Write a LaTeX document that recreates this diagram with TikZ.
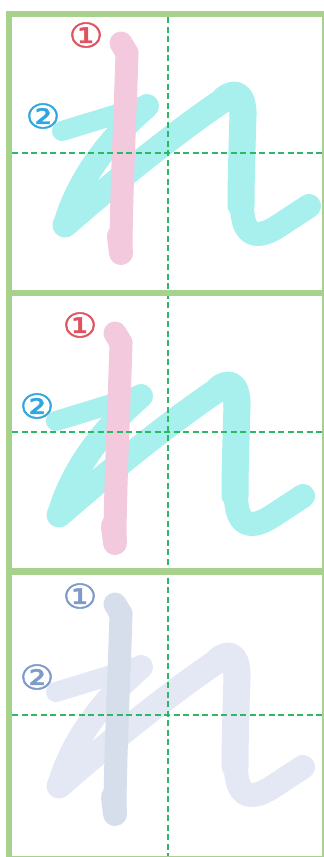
\documentclass[tikz,border=0pt]{standalone}
\usepackage{fontspec}
\newfontfamily\djv[FakeBold=1.2]{DejaVu Sans}
\definecolor{frameG}{HTML}{A9D18E}
\definecolor{guideG}{HTML}{2DB866}
\definecolor{pinkS}{HTML}{F2C9DD}
\definecolor{cyanS}{HTML}{A7F0EE}
\definecolor{greyA}{HTML}{D6DEEC}
\definecolor{greyB}{HTML}{E3E8F4}
\definecolor{redL}{HTML}{E05260}
\definecolor{blueL}{HTML}{2EA6DE}
\definecolor{greyL}{HTML}{7D9AC9}
\tikzset{
  pen/.style={line cap=round, line join=round},
  guide/.style={guideG, line width=2pt, dash pattern=on 6pt off 3.5pt},
  band/.style={frameG, line width=6.5pt},
  thinframe/.style={frameG, line width=1.5pt},
  num/.style={inner sep=0pt, xscale=1.15, font=\djv\fontsize{34}{34}\selectfont}
}
% #1 shift, #2 stroke-1 colour, #3 stroke-2 colour, #4 label-1 colour, #5 label-2 colour, #6 name prefix
\newcommand\drawRe[6]{%
\begin{scope}[shift={#1}]
  % stroke 2
  \draw[pen, #3, line width=20pt] (62,131) -- (147,105);
  \draw[pen, #3, line width=24pt] (147,106) .. controls (118,131) and (80,172) .. (65,225);
  \draw[pen, #3, line width=25pt] (65,225) .. controls (105,190) and (170,136) .. (225,99);
  \draw[pen, #3, line width=27pt] (225,99) .. controls (237,90) and (243,97) .. (243,114);
  \draw[pen, #3, line width=27pt] (243,114) .. controls (242,150) and (241,180) .. (241,205);
  \draw[pen, #3, line width=24pt] (242,205) .. controls (242,238) and (258,240) .. (280,225) -- (309,206);
  % stroke 1
  \draw[pen, #2, line width=23pt] (121,43) -- (127,53);
  \draw[pen, #2, line width=23pt] (127,53) .. controls (125,120) and (121,200) .. (121,253);
  \draw[pen, #2, line width=24pt] (119,236) -- (121,253);
  % numbers
  \node[num, text=#4] (#6one) at (86,35) {①};
  \node[num, text=#5] (#6two) at (43,116) {②};
\end{scope}}
\begin{document}
\begin{tikzpicture}[x=1pt, y=-1pt]
  \useasboundingbox (0,0) rectangle (324,857);
  \fill[white] (0,0) rectangle (324,857);
  % characters
  \drawRe{(0,0)}{pinkS}{cyanS}{redL}{blueL}{a}
  \drawRe{(-6,290)}{pinkS}{cyanS}{redL}{blueL}{b}
  \drawRe{(-6,561)}{greyA}{greyB}{greyL}{greyL}{c}
  % guide lines (on top of the strokes)
  \draw[guide] (168,17) -- (168,857);
  \draw[guide] (12,153) -- (323,153);
  \draw[guide] (12,432) -- (323,432);
  \draw[guide] (12,715) -- (323,715);
  % frame
  \draw[thinframe] (322.8,11) -- (322.8,857);
  \draw[thinframe, line width=1pt] (6,856.3) -- (323.5,856.3);
  \draw[band] (9,11) -- (9,857);
  \draw[band] (6,14) -- (323.5,14);
  \draw[band] (6,293) -- (323.5,293);
  \draw[band] (6,571.5) -- (323.5,571.5);
\end{tikzpicture}
\end{document}
